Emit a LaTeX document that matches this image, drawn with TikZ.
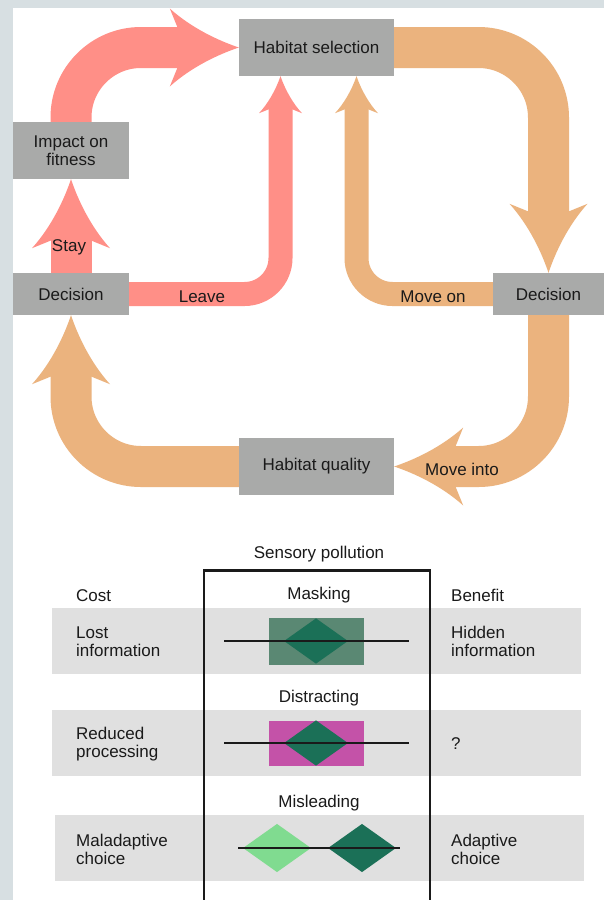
\documentclass[tikz,border=0pt]{standalone}
\usepackage{fontspec}
\setmainfont{Liberation Sans}
\usepackage{tikz}
\usetikzlibrary{arrows.meta, shapes.geometric}

\definecolor{stripgray}{HTML}{D7DFE2}
\definecolor{boxgray}{HTML}{A9AAA9}
\definecolor{bandgray}{HTML}{E0E0E0}
\definecolor{arrowpink}{HTML}{FF8F87}
\definecolor{arroworange}{HTML}{EBB37E}
\definecolor{maskgreen}{HTML}{5A8873}
\definecolor{signalgreen}{HTML}{1B7057}
\definecolor{palegreen}{HTML}{80DB90}
\definecolor{noisemagenta}{HTML}{C452A8}
\definecolor{inkgray}{HTML}{1A1A1A}

% swept head with hollow flanks
\pgfdeclarearrow{
  name = Swoop,
  parameters = {\the\pgfarrowlength,\the\pgfarrowwidth},
  setup code = {
    \pgfarrowssettipend{0pt}
    \pgfarrowssetlineend{-.7\pgfarrowlength}
    \pgfarrowssetbackend{-\pgfarrowlength}
    \pgfarrowssetvisualbackend{-.7\pgfarrowlength}
    \pgfarrowshullpoint{0pt}{0pt}
    \pgfarrowshullpoint{-\pgfarrowlength}{.5\pgfarrowwidth}
    \pgfarrowshullpoint{-\pgfarrowlength}{-.5\pgfarrowwidth}
    \pgfarrowssavethe\pgfarrowlength
    \pgfarrowssavethe\pgfarrowwidth
  },
  drawing code = {
    \pgfpathmoveto{\pgfpointorigin}
    \pgfpathcurveto{\pgfpoint{-.4\pgfarrowlength}{.12\pgfarrowwidth}}{\pgfpoint{-.75\pgfarrowlength}{.3\pgfarrowwidth}}{\pgfpoint{-\pgfarrowlength}{.5\pgfarrowwidth}}
    \pgfpathlineto{\pgfpoint{-.77\pgfarrowlength}{0pt}}
    \pgfpathlineto{\pgfpoint{-\pgfarrowlength}{-.5\pgfarrowwidth}}
    \pgfpathcurveto{\pgfpoint{-.75\pgfarrowlength}{-.3\pgfarrowwidth}}{\pgfpoint{-.4\pgfarrowlength}{-.12\pgfarrowwidth}}{\pgfpointorigin}
    \pgfpathclose
    \pgfusepathqfill
  },
  defaults = {length = 10pt, width = 10pt}
}

\tikzset{
  box/.style={fill=boxgray, inner sep=0pt, align=center, text=inkgray},
  lbl/.style={inner sep=0pt, align=left, text=inkgray, yshift=-1.5pt},
  fatarrow/.style={line width=41pt, rounded corners=70pt, -{Swoop[length=69pt, width=78pt]}},
  slimarrow/.style={line width=24pt, rounded corners=36pt, -{Swoop[length=37pt, width=43pt]}},
  band/.style={fill=bandgray},
  strike/.style={line width=2pt, inkgray},
  gem/.style={diamond, inner sep=0pt, minimum width=#1, minimum height=.71*#1},
}

\begin{document}
\begin{tikzpicture}[x=1pt, y=-1pt, font=\fontsize{17}{18}\selectfont]
\useasboundingbox (0,0) rectangle (604,900);
\fill[stripgray] (0,0) rectangle (604,900);
\fill[white] (13,8) rectangle (604,900);

% habitat cycle
\node[box, minimum width=155pt, minimum height=57pt] (habsel) at (316.5,47.5) {Habitat selection};
\node[box, minimum width=116pt, minimum height=57pt] (impact) at (71,150.5) {Impact on\\fitness};
\node[box, minimum width=116pt, minimum height=42pt] (decl) at (71,294) {Decision};
\node[box, minimum width=111pt, minimum height=42pt] (decr) at (548.5,294) {Decision};
\node[box, minimum width=155pt, minimum height=57pt] (habqual) at (316.5,466.5) {Habitat quality};

\draw[fatarrow, arrowpink] (impact.north) |- (habsel.west); %back to selection
\draw[fatarrow, arrowpink] (decl.north) -- (impact.south); %stay
\draw[slimarrow, arrowpink] (decl.east) -| ([xshift=-36pt]habsel.south); %leave
\draw[fatarrow, arroworange] (habsel.east) -| (decr.north);
\draw[slimarrow, arroworange] (decr.west) -| ([xshift=40pt]habsel.south); %move on
\draw[fatarrow, arroworange] (decr.south) |- (habqual.east); %move into
\draw[fatarrow, arroworange] (habqual.west) -| (decl.south);

\node[lbl] (stay) at (69,246) {Stay};
\node[lbl] (leave) at (202,295) {Leave};
\node[lbl] (moveon) at (433,295) {Move on};
\node[lbl] (moveinto) at (462,468) {Move into};

% sensory pollution table
\fill[band] (52,608) rectangle (580.5,673.5);
\fill[band] (52,710) rectangle (580.5,775.5);
\fill[band] (55,815) rectangle (583.5,880.5);
\draw[line width=2.3pt, inkgray] (204,902) |- (430.3,570.5) -- (430.3,902);
\node[lbl] (sensory) at (319,553) {Sensory pollution};

\node[lbl, anchor=west] (cost) at (76,594) {Cost};
\node[lbl] (masking) at (319,594) {Masking};
\node[lbl, anchor=west] (benefit) at (451,594) {Benefit};

\node[lbl, anchor=west] (lost) at (76,640) {Lost\\information};
\fill[maskgreen] (269,618) rectangle (364,665);
\node[gem=64pt, fill=signalgreen] (sig1) at (316,641) {};
\draw[strike] (224,641) -- (409,641);
\node[lbl, anchor=west] (hidden) at (451,640) {Hidden\\information};

\node[lbl] (distract) at (319,697) {Distracting};
\node[lbl, anchor=west] (reduced) at (76,742.5) {Reduced\\processing};
\fill[noisemagenta] (269,721) rectangle (364,766);
\node[gem=64pt, fill=signalgreen] (sig2) at (316,743) {};
\draw[strike] (224,743) -- (409,743);
\node[lbl, anchor=west] (unknown) at (451,742.5) {?};

\node[lbl] (mislead) at (319,802) {Misleading};
\node[lbl, anchor=west] (maladapt) at (76,848) {Maladaptive\\choice};
\node[gem=68pt, fill=palegreen] (decoy) at (277,848) {};
\node[gem=68pt, fill=signalgreen] (sig3) at (362,848) {};
\draw[strike] (238,848) -- (400,848);
\node[lbl, anchor=west] (adapt) at (451,848) {Adaptive\\choice};
\end{tikzpicture}
\end{document}
